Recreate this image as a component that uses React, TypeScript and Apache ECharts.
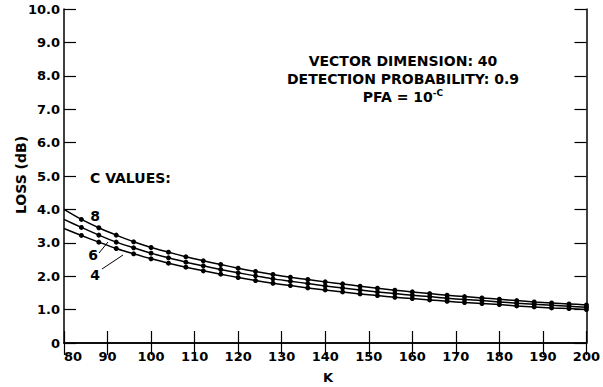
import React, { useEffect, useRef } from "react";
import * as echarts from "echarts";

const K_VALUES = [80, 84, 88, 92, 96, 100, 104, 108, 112, 116, 120, 124, 128, 132, 136, 140, 144, 148, 152, 156, 160, 164, 168, 172, 176, 180, 184, 188, 192, 196, 200];
const LOSS_C8 = [4.0, 3.7, 3.45, 3.23, 3.03, 2.86, 2.72, 2.58, 2.46, 2.35, 2.24, 2.14, 2.05, 1.97, 1.9, 1.83, 1.77, 1.7, 1.64, 1.58, 1.53, 1.48, 1.43, 1.39, 1.35, 1.31, 1.27, 1.23, 1.2, 1.17, 1.14];
const LOSS_C6 = [3.7, 3.46, 3.23, 3.02, 2.85, 2.69, 2.55, 2.42, 2.31, 2.2, 2.1, 2.01, 1.92, 1.85, 1.78, 1.71, 1.65, 1.59, 1.53, 1.48, 1.43, 1.39, 1.34, 1.3, 1.27, 1.23, 1.19, 1.16, 1.13, 1.1, 1.07];
const LOSS_C4 = [3.43, 3.22, 3.02, 2.83, 2.67, 2.52, 2.39, 2.27, 2.16, 2.06, 1.96, 1.87, 1.79, 1.72, 1.65, 1.59, 1.53, 1.47, 1.42, 1.37, 1.33, 1.29, 1.25, 1.21, 1.18, 1.15, 1.11, 1.08, 1.05, 1.03, 1.0];
const SERIES_NAMES = ["C = 8", "C = 6", "C = 4"];
const ANNOTATION_LINES = ["VECTOR DIMENSION: 40", "DETECTION PROBABILITY: 0.9"];

const FONT = "'DejaVu Sans', Verdana, sans-serif";

function buildData(vals: number[]) {
  return K_VALUES.map((k, i) => ({
    value: [k, vals[i]],
    symbol: i === 0 ? "none" : "circle",
  }));
}

export default function App() {
  const ref = useRef<HTMLDivElement>(null);
  useEffect(() => {
    if (!ref.current) return;
    const chart = echarts.init(ref.current, null, { renderer: "svg" });
    const axisLine = { show: true, lineStyle: { color: "#000", width: 1.5 } };
    const tickIn = { show: true, inside: true, length: 12, lineStyle: { color: "#000", width: 1.2 } };
    const labelStyle = { color: "#000", fontFamily: FONT, fontWeight: "bold" as const, fontSize: 13 };
    const seriesList = [LOSS_C8, LOSS_C6, LOSS_C4].map((vals, i) => ({
      name: SERIES_NAMES[i],
      type: "line",
      xAxisIndex: 0,
      yAxisIndex: 0,
      data: buildData(vals),
      smooth: 0.3,
      symbolSize: 5,
      showAllSymbol: true,
      itemStyle: { color: "#000" },
      lineStyle: { color: "#000", width: 1.5 },
    }));
    chart.setOption({
      animation: false,
      backgroundColor: "#fff",
      grid: { left: 64, right: 15, top: 9, bottom: 44 },
      xAxis: [
        {
          type: "value",
          min: 80,
          max: 200,
          interval: 10,
          axisLine,
          axisTick: tickIn,
          axisLabel: { ...labelStyle, margin: 7, alignMinLabel: "left" },
          splitLine: { show: false },
        },
        {
          type: "value",
          position: "top",
          min: 80,
          max: 200,
          interval: 10,
          axisLine,
          axisTick: tickIn,
          axisLabel: { show: false },
          splitLine: { show: false },
        },
      ],
      yAxis: [
        {
          type: "value",
          min: 0,
          max: 10,
          interval: 1,
          axisLine,
          axisTick: tickIn,
          axisLabel: {
            ...labelStyle,
            margin: 4,
            formatter: (v: number) => (v === 0 ? "0" : v.toFixed(1)),
          },
          splitLine: { show: false },
        },
        {
          type: "value",
          position: "right",
          min: 0,
          max: 10,
          interval: 1,
          axisLine,
          axisTick: tickIn,
          axisLabel: { show: false },
          splitLine: { show: false },
        },
      ],
      series: seriesList,
      graphic: [
        {
          type: "text",
          x: 21,
          y: 175,
          rotation: Math.PI / 2,
          style: { text: "LOSS (dB)", fill: "#000", font: `bold 14px ${FONT}`, align: "center", verticalAlign: "middle" },
        },
        {
          type: "text",
          x: 328,
          y: 377,
          style: { text: "K", fill: "#000", font: `bold 13px ${FONT}`, align: "center", verticalAlign: "middle" },
        },
        {
          type: "text",
          x: 403,
          y: 61,
          style: { text: ANNOTATION_LINES[0], fill: "#000", font: `bold 14px ${FONT}`, align: "center", verticalAlign: "middle" },
        },
        {
          type: "text",
          x: 403,
          y: 79,
          style: { text: ANNOTATION_LINES[1], fill: "#000", font: `bold 14px ${FONT}`, align: "center", verticalAlign: "middle" },
        },
        {
          type: "text",
          x: 403,
          y: 97,
          style: {
            text: "{b|PFA = 10}{s|-C}",
            align: "center",
            verticalAlign: "middle",
            rich: {
              b: { fill: "#000", font: `bold 14px ${FONT}` },
              s: { fill: "#000", font: `bold 9px ${FONT}`, verticalAlign: "top", padding: [0, 0, 8, 0] },
            },
          },
        },
        {
          type: "text",
          x: 90,
          y: 178,
          style: { text: "C VALUES:", fill: "#000", font: `bold 14px ${FONT}`, align: "left", verticalAlign: "middle" },
        },
        {
          type: "text",
          x: 95,
          y: 216,
          style: { text: "8", fill: "#000", font: `bold 14px ${FONT}`, align: "center", verticalAlign: "middle" },
        },
        {
          type: "text",
          x: 93,
          y: 255,
          style: { text: "6", fill: "#000", font: `bold 14px ${FONT}`, align: "center", verticalAlign: "middle" },
        },
        {
          type: "text",
          x: 95,
          y: 275,
          style: { text: "4", fill: "#000", font: `bold 14px ${FONT}`, align: "center", verticalAlign: "middle" },
        },
        {
          type: "line",
          shape: { x1: 99, y1: 253, x2: 108, y2: 242 },
          style: { stroke: "#000", lineWidth: 1 },
        },
        {
          type: "line",
          shape: { x1: 102, y1: 269, x2: 123, y2: 255 },
          style: { stroke: "#000", lineWidth: 1 },
        },
      ],
    });
    return () => chart.dispose();
  }, []);
  return <div ref={ref} style={{ width: 603, height: 387, position: "absolute", left: 0, top: 0 }} />;
}
